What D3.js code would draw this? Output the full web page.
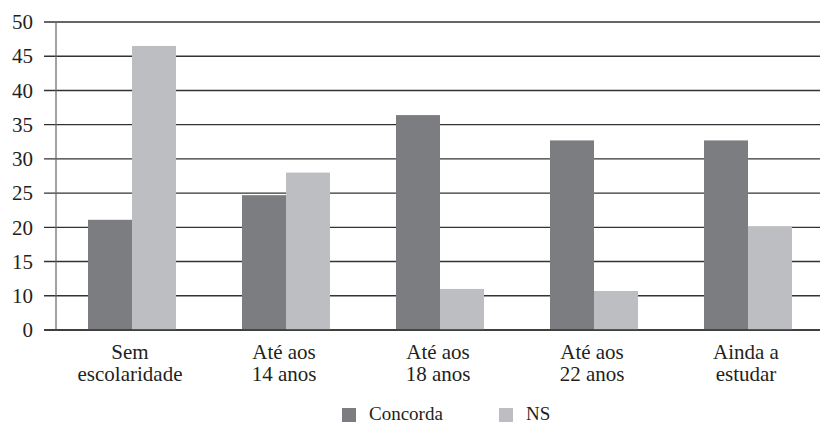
<!DOCTYPE html>
<html>
<head>
<meta charset="utf-8">
<script src="https://cdn.jsdelivr.net/npm/d3@7"></script>
<style>
  body { margin: 0; background: #fff; }
  svg text { font-family: "Liberation Serif", "Times New Roman", Tinos, "DejaVu Serif", "Noto Serif", serif; fill: #231f20; }
</style>
</head>
<body>
<svg id="chart"></svg>
<script>
// data
const categories = ['Sem\nescolaridade', 'Até aos\n14 anos', 'Até aos\n18 anos', 'Até aos\n22 anos', 'Ainda a\nestudar'];
const seriesNames = ['Concorda', 'NS'];
const concorda = [21.1, 24.7, 36.4, 32.7, 32.7];
const ns = [46.5, 28.0, 11.0, 10.7, 20.1];
// the original axis puts "0" where 5 would be
const tickValues = [5, 10, 15, 20, 25, 30, 35, 40, 45, 50];
const tickLabels = ['0', '10', '15', '20', '25', '30', '35', '40', '45', '50'];

const width = 820, height = 424;
const margin = { top: 22, right: -5, bottom: 94, left: 55 };
const colors = { 'Concorda': '#7c7d81', 'NS': '#bdbec2' };
const serif = '"Liberation Serif", "Times New Roman", Tinos, "DejaVu Serif", "Noto Serif", serif';

const svg = d3.select('#chart')
    .attr('width', width)
    .attr('height', height)
    .style('font-family', serif);

const rows = categories.map((c, i) => ({ cat: c, Concorda: concorda[i], NS: ns[i] }));

const x0 = d3.scaleBand()
    .domain(categories)
    .range([margin.left, width - margin.right])
    .paddingInner(0.4286)
    .paddingOuter(0.2143);

const x1 = d3.scaleBand()
    .domain(seriesNames)
    .range([0, x0.bandwidth()]);

const y = d3.scaleLinear()
    .domain([5, 50])
    .range([height - margin.bottom, margin.top]);

// grid lines
svg.append('g')
    .selectAll('line')
    .data(tickValues)
    .join('line')
    .attr('x1', 44)
    .attr('x2', width)
    .attr('y1', d => y(d))
    .attr('y2', d => y(d))
    .attr('stroke', '#333')
    .attr('stroke-width', 1.4);

// vertical axis line
svg.append('line')
    .attr('x1', margin.left + 1)
    .attr('x2', margin.left + 1)
    .attr('y1', y(50))
    .attr('y2', y(5))
    .attr('stroke', '#666')
    .attr('stroke-width', 1.2);

// y tick labels
const yaxis = d3.axisLeft(y)
    .tickValues(tickValues)
    .tickFormat((d, i) => tickLabels[i])
    .tickSize(0)
    .tickPadding(0);

svg.append('g')
    .attr('transform', `translate(33, 0)`)
    .call(yaxis)
    .attr('font-family', null)
    .call(g => g.select('.domain').remove())
    .selectAll('text')
    .style('font-family', serif)
    .attr('font-size', 21)
    .attr('fill', '#231f20');

// bars
const groups = svg.append('g')
    .selectAll('g')
    .data(rows)
    .join('g')
    .attr('transform', d => `translate(${x0(d.cat)}, 0)`);

groups.selectAll('rect')
    .data(d => seriesNames.map(k => ({ key: k, value: d[k] })))
    .join('rect')
    .attr('x', d => x1(d.key))
    .attr('width', x1.bandwidth())
    .attr('y', d => y(d.value))
    .attr('height', d => y(5) - y(d.value))
    .attr('fill', d => colors[d.key]);

// baseline on top of bars
svg.append('line')
    .attr('x1', 44)
    .attr('x2', width)
    .attr('y1', y(5))
    .attr('y2', y(5))
    .attr('stroke', '#333')
    .attr('stroke-width', 1.4);

// category labels
const xaxis = d3.axisBottom(x0)
    .tickSize(0)
    .tickFormat('');

const xg = svg.append('g')
    .attr('transform', `translate(0, ${y(5)})`)
    .call(xaxis)
    .attr('font-family', null)
    .call(g => g.select('.domain').remove());

xg.selectAll('.tick')
    .append('text')
    .attr('text-anchor', 'middle')
    .style('font-family', serif)
    .attr('font-size', 21)
    .attr('fill', '#231f20')
    .selectAll('tspan')
    .data(d => d.split('\n'))
    .join('tspan')
    .attr('x', -2)
    .attr('y', (d, i) => 29 + i * 22)
    .text(d => d);

// legend
const legendX = [342, 499];
const legend = svg.append('g')
    .selectAll('g')
    .data(seriesNames)
    .join('g')
    .attr('transform', (d, i) => `translate(${legendX[i]}, 408)`);

legend.append('rect')
    .attr('width', 14)
    .attr('height', 14)
    .attr('fill', d => colors[d]);

legend.append('text')
    .attr('x', 27)
    .attr('y', 12)
    .style('font-family', serif)
    .attr('font-size', 19)
    .text(d => d);
</script>
</body>
</html>
